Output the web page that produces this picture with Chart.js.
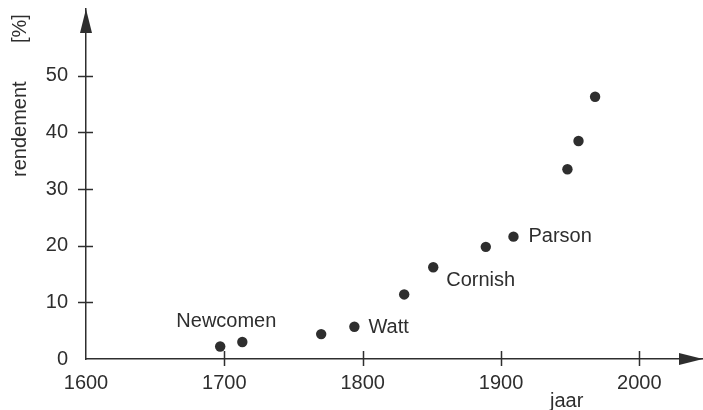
<!DOCTYPE html>
<html>
<head>
<meta charset="utf-8">
<script src="https://cdn.jsdelivr.net/npm/chart.js@4.4.0/dist/chart.umd.min.js"></script>
<style>
  html, body { margin: 0; padding: 0; background: #ffffff; }
  #wrap { width: 703px; height: 410px; position: relative; }
</style>
</head>
<body>
<div id="wrap"><canvas id="c" width="703" height="410"></canvas></div>
<script>
// ---- data ----
const years = [1697, 1713, 1770, 1794, 1830, 1851, 1889, 1909, 1948, 1956, 1968];
const efficiency = [2.2, 3.0, 4.4, 5.7, 11.4, 16.2, 19.8, 21.6, 33.5, 38.5, 46.3];
const xTickValues = [1600, 1700, 1800, 1900, 2000];
const yTickValues = [0, 10, 20, 30, 40, 50];
const labelTexts = ['Newcomen', 'Watt', 'Cornish', 'Parson'];
const labelPointIndex = [1, 3, 5, 7];
const xTitle = 'jaar';
const yTitle = 'rendement';
const yUnit = '[%]';

// ---- styles ----
const INK = '#2e2e2e';
const FONT = '"Liberation Sans", Arial, Helvetica, sans-serif';
const labelOffsets = [[-66, -15], [14, 6], [13, 19], [15, 5]]; // px offset of text (left, baseline)

const decor = {
  id: 'decor',
  afterDraw(chart) {
    const ctx = chart.ctx;
    const xs = chart.scales.x, ys = chart.scales.y;
    const area = chart.chartArea;
    const x0 = area.left, y0 = area.bottom;
    ctx.save();
    ctx.strokeStyle = INK;
    ctx.fillStyle = INK;
    ctx.lineWidth = 1.5;
    // tick marks crossing axes
    ctx.beginPath();
    yTickValues.forEach(v => {
      if (v === 0) return;
      const py = Math.round(ys.getPixelForValue(v)) + 0.5;
      ctx.moveTo(x0 - 8, py); ctx.lineTo(x0 + 7, py);
    });
    xTickValues.forEach(v => {
      if (v === xs.min) return;
      const px = Math.round(xs.getPixelForValue(v)) + 0.5;
      ctx.moveTo(px, y0 - 8); ctx.lineTo(px, y0 + 7);
    });
    ctx.stroke();
    // arrowheads
    ctx.beginPath();
    ctx.moveTo(x0, area.top);
    ctx.lineTo(x0 - 6, area.top + 24);
    ctx.lineTo(x0 + 6, area.top + 24);
    ctx.closePath();
    ctx.fill();
    ctx.beginPath();
    ctx.moveTo(area.right, y0);
    ctx.lineTo(area.right - 24, y0 - 6);
    ctx.lineTo(area.right - 24, y0 + 6);
    ctx.closePath();
    ctx.fill();
    // point labels
    ctx.font = '20px ' + FONT;
    ctx.textBaseline = 'alphabetic';
    ctx.textAlign = 'left';
    labelTexts.forEach((t, i) => {
      const k = labelPointIndex[i];
      const px = xs.getPixelForValue(years[k]);
      const py = ys.getPixelForValue(efficiency[k]);
      ctx.fillText(t, px + labelOffsets[i][0], py + labelOffsets[i][1]);
    });
    // x title
    ctx.fillText(xTitle, 550, 407);
    // y title (rotated)
    ctx.save();
    ctx.translate(26, 177);
    ctx.rotate(-Math.PI / 2);
    ctx.fillText(yTitle, 0, 0);
    ctx.restore();
    ctx.save();
    ctx.translate(26, 43);
    ctx.rotate(-Math.PI / 2);
    ctx.fillText(yUnit, 0, 0);
    ctx.restore();
    ctx.restore();
  }
};

new Chart(document.getElementById('c'), {
  type: 'scatter',
  data: {
    datasets: [{
      data: years.map((y, i) => ({ x: y, y: efficiency[i] })),
      backgroundColor: INK,
      borderWidth: 0,
      pointRadius: 5.2,
      pointHoverRadius: 5.2,
      clip: false
    }]
  },
  options: {
    responsive: false,
    animation: false,
    events: [],
    layout: { autoPadding: false, padding: { left: 0, right: 0, top: 9, bottom: 0 } },
    plugins: { legend: { display: false }, tooltip: { enabled: false } },
    scales: {
      x: {
        type: 'linear',
        min: 1600, max: 2046,
        grid: { display: false, drawTicks: false },
        border: { display: true, color: INK, width: 1.5 },
        afterBuildTicks: s => { s.ticks = xTickValues.map(v => ({ value: v })); },
        afterFit: s => { s.height = 51; s.paddingLeft = 0; s.paddingRight = 0; },
        ticks: { color: INK, font: { family: FONT, size: 20 }, padding: 12, maxRotation: 0, autoSkip: false,
                 callback: v => String(v) }
      },
      y: {
        type: 'linear',
        min: 0, max: 61.8,
        grid: { display: false, drawTicks: false },
        border: { display: true, color: INK, width: 1.5 },
        afterBuildTicks: s => { s.ticks = yTickValues.map(v => ({ value: v })); },
        afterFit: s => { s.width = 86; s.paddingTop = 0; s.paddingBottom = 0; },
        ticks: { color: INK, font: { family: FONT, size: 20 }, padding: 18, autoSkip: false,
                 callback: v => String(v) }
      }
    }
  },
  plugins: [decor]
});
</script>
</body>
</html>
